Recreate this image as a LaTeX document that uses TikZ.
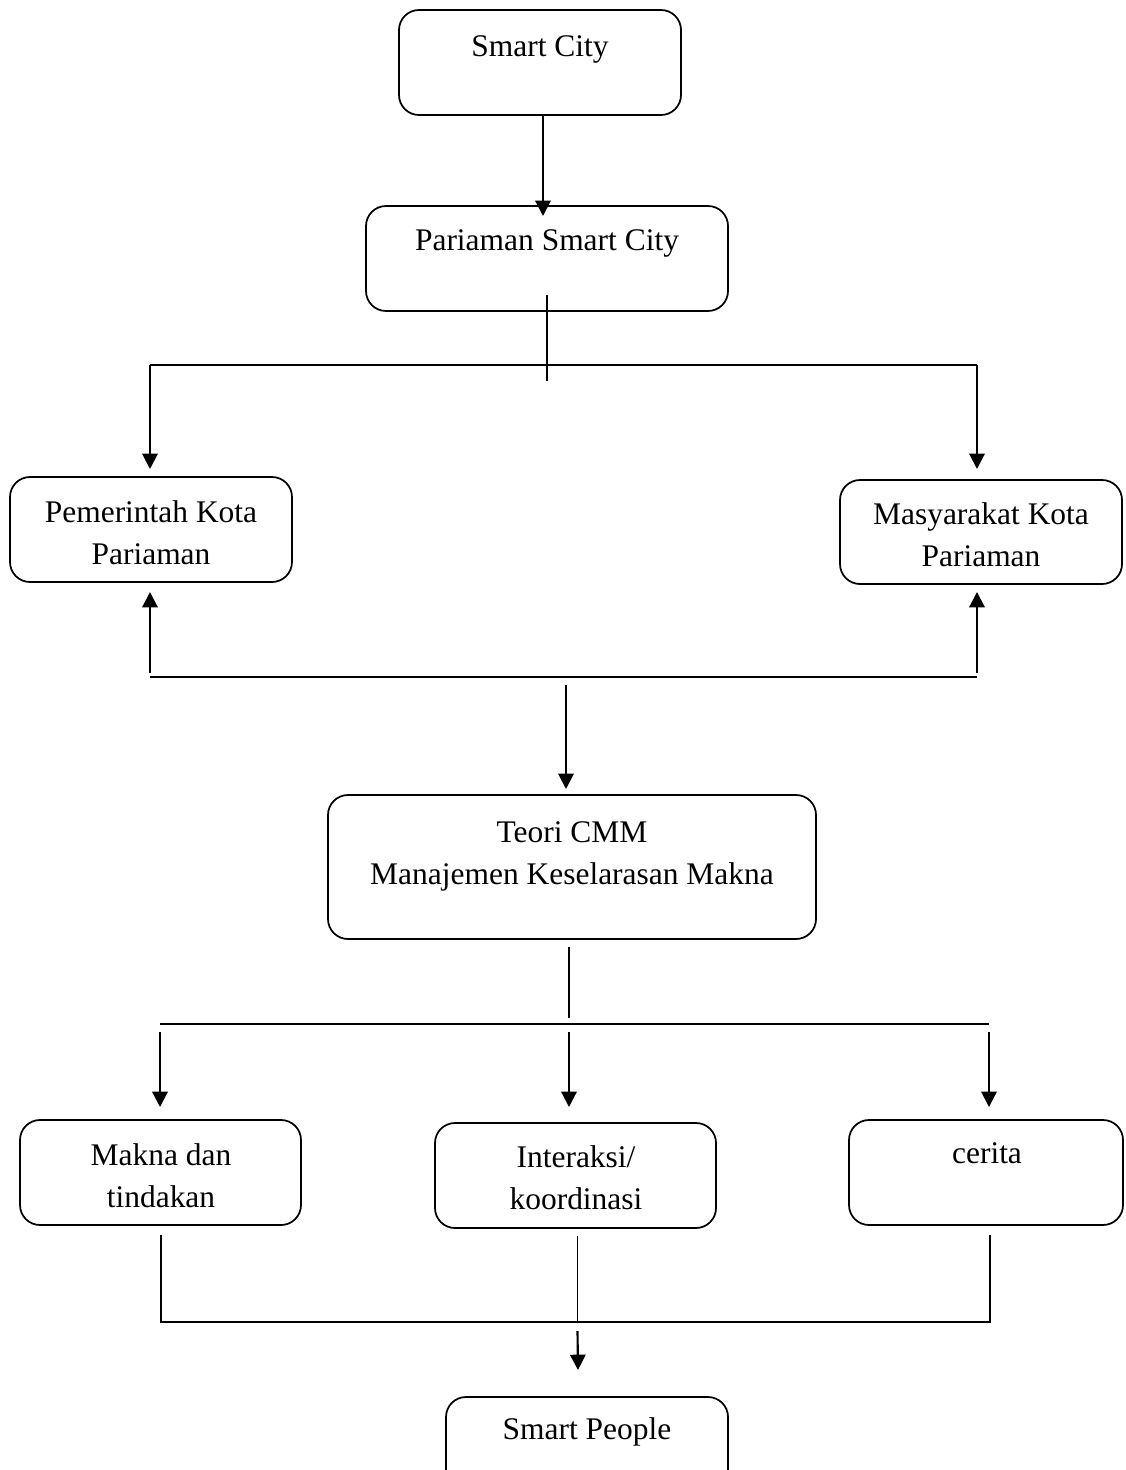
\documentclass[tikz,border=0pt]{standalone}
\usepackage{fontspec}
\setmainfont{Liberation Serif}
\usetikzlibrary{arrows.meta,calc}
\tikzset{
  box/.style 2 args={draw, line width=1.3pt, rounded corners=15pt, inner sep=0pt, outer sep=0pt,
    minimum width=#1*0.75pt, minimum height=#2*0.75pt},
  txt/.style={anchor=base, inner sep=0pt, font=\fontsize{23.6}{31.5}\selectfont},
  arr/.style={line width=1.6pt, -{Triangle[width=11.5pt,length=11.5pt]}},
  ln/.style={line width=1.5pt},
  thinln/.style={line width=1pt},
}
\newcommand{\twol}[2]{\begin{tabular}[t]{@{}c@{}}#1\\#2\end{tabular}}
\begin{document}
\begin{tikzpicture}[x=0.75pt,y=-0.75pt]
\useasboundingbox (0,0) rectangle (1125,1470);
\clip (0,0) rectangle (1125,1470);
% boxes
\node[box={282}{105}] (sc)  at (540,62.5) {};
\node[box={362}{105}] (psc) at (547,258.5) {};
\node[box={282}{105}] (pem) at (151,529.5) {};
\node[box={282}{104}] (mas) at (981,532) {};
\node[box={488}{144}] (cmm) at (572,867) {};
\node[box={281}{105}] (mak) at (160.5,1172.5) {};
\node[box={281}{105}] (int) at (575.5,1175.5) {};
\node[box={274}{105}] (cer) at (986,1172.5) {};
\node[box={282}{103}] (sp)  at (587,1448.5) {};
% texts
\node[txt] (tsc)  at (540,57) {Smart City};
\node[txt] (tpsc) at (547,250) {Pariaman Smart City};
\node[txt] (tpem) at (151,522) {\twol{Pemerintah Kota}{Pariaman}};
\node[txt] (tmas) at (981,524) {\twol{Masyarakat Kota}{Pariaman}};
\node[txt] (tcmm) at (572,842) {\twol{Teori CMM}{Manajemen Keselarasan Makna}};
\node[txt] (tmak) at (161,1165) {\twol{Makna dan}{tindakan}};
\node[txt] (tint) at (576,1167) {\twol{Interaksi/}{koordinasi}};
\node[txt] (tcer) at (987,1163) {cerita};
\node[txt] (tsp)  at (587,1439) {Smart People};
% junction coordinates
\coordinate (hL) at (150,365);
\coordinate (hR) at (977,365);
\coordinate (bL) at (150,677);
\coordinate (bR) at (977,677);
\coordinate (m1) at (566,685);
\coordinate (h2L) at (160,1024);
\coordinate (h2M) at (569,1024);
\coordinate (h2R) at (989,1024);
% connectors
\draw[arr] ($(sc.south)+(3,0)$) -- ($(psc.north)+(-4,10)$);
\draw[thinln] ($(psc.south)+(0,-16)$) -- ++(0,86);
\draw[ln] (hL) -- (hR);
\draw[arr] (hL) -- ($(hL |- pem.north)+(0,-8)$);
\draw[arr] (hR) -- ($(hR |- mas.north)+(0,-11)$);
\draw[ln] (bL) -- (bR);
\draw[arr] ($(bL)+(0,-4)$) -- ($(bL |- pem.south)+(0,10)$);
\draw[arr] ($(bR)+(0,-4)$) -- ($(bR |- mas.south)+(0,8)$);
\draw[arr] (m1) -- ($(m1 |- cmm.north)+(0,-6)$);
\draw[thinln] ($(cmm.south)+(-3,8)$) -- ++(0,71);
\draw[ln] (h2L) -- (h2R);
\draw[arr] ($(h2L)+(0,8)$) -- ($(h2L |- mak.north)+(0,-13)$);
\draw[arr] ($(h2M)+(0,8)$) -- ($(h2M |- int.north)+(0,-16)$);
\draw[arr] ($(h2R)+(0,8)$) -- ($(h2R |- cer.north)+(0,-13)$);
\draw[thinln] ($(mak.south)+(0.5,10)$) |- ($(cer.south)+(4,97)$) -- ($(cer.south)+(4,10)$);
\draw[thinln] ($(int.south)+(2,8)$) -- ++(0,86);
\draw[arr] ($(int.south)+(2,103)$) -- ($(sp.north)+(-9,-27)$);
\end{tikzpicture}
\end{document}
